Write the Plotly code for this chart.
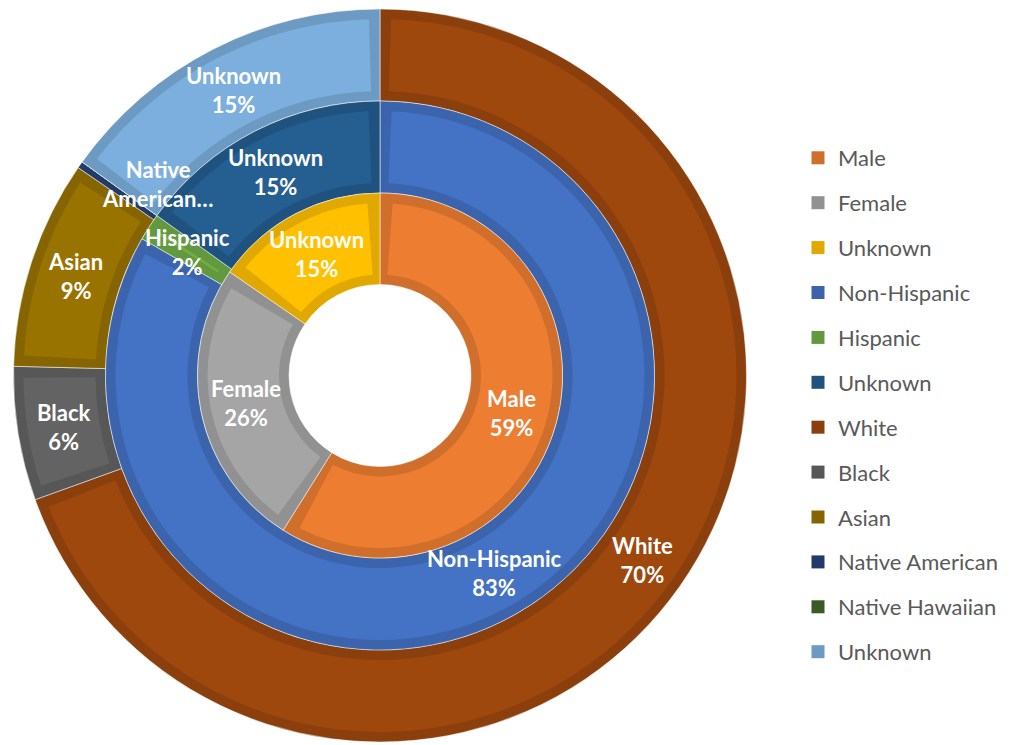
import math
import plotly.graph_objects as go

# ---------------- data ----------------
sex_labels = ["Male", "Female", "Unknown"]
sex_values = [58.9, 25.7, 15.4]
sex_colors = ["#ED7D31", "#A5A5A5", "#FFC000"]

eth_labels = ["Non-Hispanic", "Hispanic", "Unknown"]
eth_values = [83.3, 1.6, 15.1]
eth_colors = ["#4472C4", "#70AD47", "#255E91"]

race_labels = ["White", "Black", "Asian", "Native American", "Native Hawaiian", "Unknown"]
race_values = [69.5, 5.9, 9.2, 0.3, 0.0, 15.1]
race_colors = ["#9E480E", "#636363", "#997300", "#264478", "#43682B", "#7CAFDD"]

short_names = {"Native American": "Native<br>American…"}
label_shift = {"Native American": (40, 7)}

# ---------------- geometry / style ----------------
PAGE_OFFSET = 8                      # default body margin of the html page
W, H = 1011 - PAGE_OFFSET, 745 - PAGE_OFFSET
CX, CY = 380 - PAGE_OFFSET, 375.5 - PAGE_OFFSET
RADII = [91, 182.5, 274.5, 366.5]
BAND = 10
FONT = "Lato"
LABEL_SIZE = 22


def shade(hexc, f):
    r, g, b = int(hexc[1:3], 16), int(hexc[3:5], 16), int(hexc[5:7], 16)
    return f"rgb({int(r * f)},{int(g * f)},{int(b * f)})"


def domain(r):
    return dict(x=[(CX - r) / W, (CX + r) / W], y=[(H - CY - r) / H, (H - CY + r) / H])


fig = go.Figure()
annotations = []
overlays = []


def ring(labels, values, colors, r_in, r_out):
    total = sum(values)
    dark = [shade(c, 0.88) for c in colors]
    fig.add_trace(go.Pie(
        labels=labels, values=values, sort=False, direction="clockwise", rotation=0,
        hole=r_in / r_out, domain=domain(r_out),
        marker=dict(colors=dark, line=dict(color="rgba(255,255,255,0.5)", width=1)),
        textinfo="none", showlegend=False, hoverinfo="label+percent",
    ))
    r_mid = (r_in + r_out) / 2
    h = BAND / r_mid / (2 * math.pi) * total
    ov_labels, ov_vals, ov_cols = [], [], []
    cum = 0.0
    for lab, v, c in zip(labels, values, colors):
        g = min(h, v / 2)
        frac = v / total
        if v > 0:
            name = short_names.get(lab, f"{lab}<br>{round(100 * frac)}%")
            theta = 2 * math.pi * (cum + v / 2) / total
            px = CX + r_mid * math.sin(theta)
            py = CY - r_mid * math.cos(theta)
            dx, dy = label_shift.get(lab, (0, 0))
            annotations.append(dict(
                x=px / W, y=1 - py / H, xref="paper", yref="paper", text=name,
                xanchor="center", yanchor="middle",
                showarrow=False, xshift=dx, yshift=dy,
                font=dict(family=FONT, size=LABEL_SIZE, color="white", weight="bold"),
            ))
        cum += v
        ov_labels += [lab + " |a", lab, lab + " |b"]
        ov_vals += [g, v - 2 * g, g]
        ov_cols += ["rgba(0,0,0,0)", c, "rgba(0,0,0,0)"]
    overlays.append(go.Pie(
        labels=ov_labels, values=ov_vals, sort=False, direction="clockwise", rotation=0,
        hole=(r_in + BAND) / (r_out - BAND), domain=domain(r_out - BAND),
        marker=dict(colors=ov_cols, line=dict(width=0)),
        textinfo="none", showlegend=False, hoverinfo="skip",
    ))
    return dark


race_dark = ring(race_labels, race_values, race_colors, RADII[2], RADII[3])
fig.add_trace(overlays[-1])
eth_dark = ring(eth_labels, eth_values, eth_colors, RADII[1], RADII[2])
fig.add_trace(overlays[-1])
sex_dark = ring(sex_labels, sex_values, sex_colors, RADII[0], RADII[1])
fig.add_trace(overlays[-1])

# legend entries (one per category, in series order)
legend_labels = sex_labels + eth_labels + race_labels
legend_colors = sex_dark + eth_dark + race_dark
for i, (lab, col) in enumerate(zip(legend_labels, legend_colors)):
    fig.add_trace(go.Scatter(
        x=[None], y=[None], mode="markers", name=lab, legendgroup=f"g{i}",
        marker=dict(symbol="square", size=13, color=col), hoverinfo="skip",
    ))

fig.update_layout(
    width=W, height=H,
    margin=dict(l=0, r=0, t=0, b=0),
    paper_bgcolor="white", plot_bgcolor="white",
    xaxis=dict(visible=False), yaxis=dict(visible=False),
    showlegend=True,
    legend=dict(
        x=(838 - PAGE_OFFSET - 40) / W, y=1 - (137 - PAGE_OFFSET) / H,
        xanchor="left", yanchor="top",
        font=dict(family=FONT, size=22, color="#595959"),
        tracegroupgap=13.3, bgcolor="rgba(0,0,0,0)",
    ),
    annotations=annotations,
)

fig.write_html("out.html")
